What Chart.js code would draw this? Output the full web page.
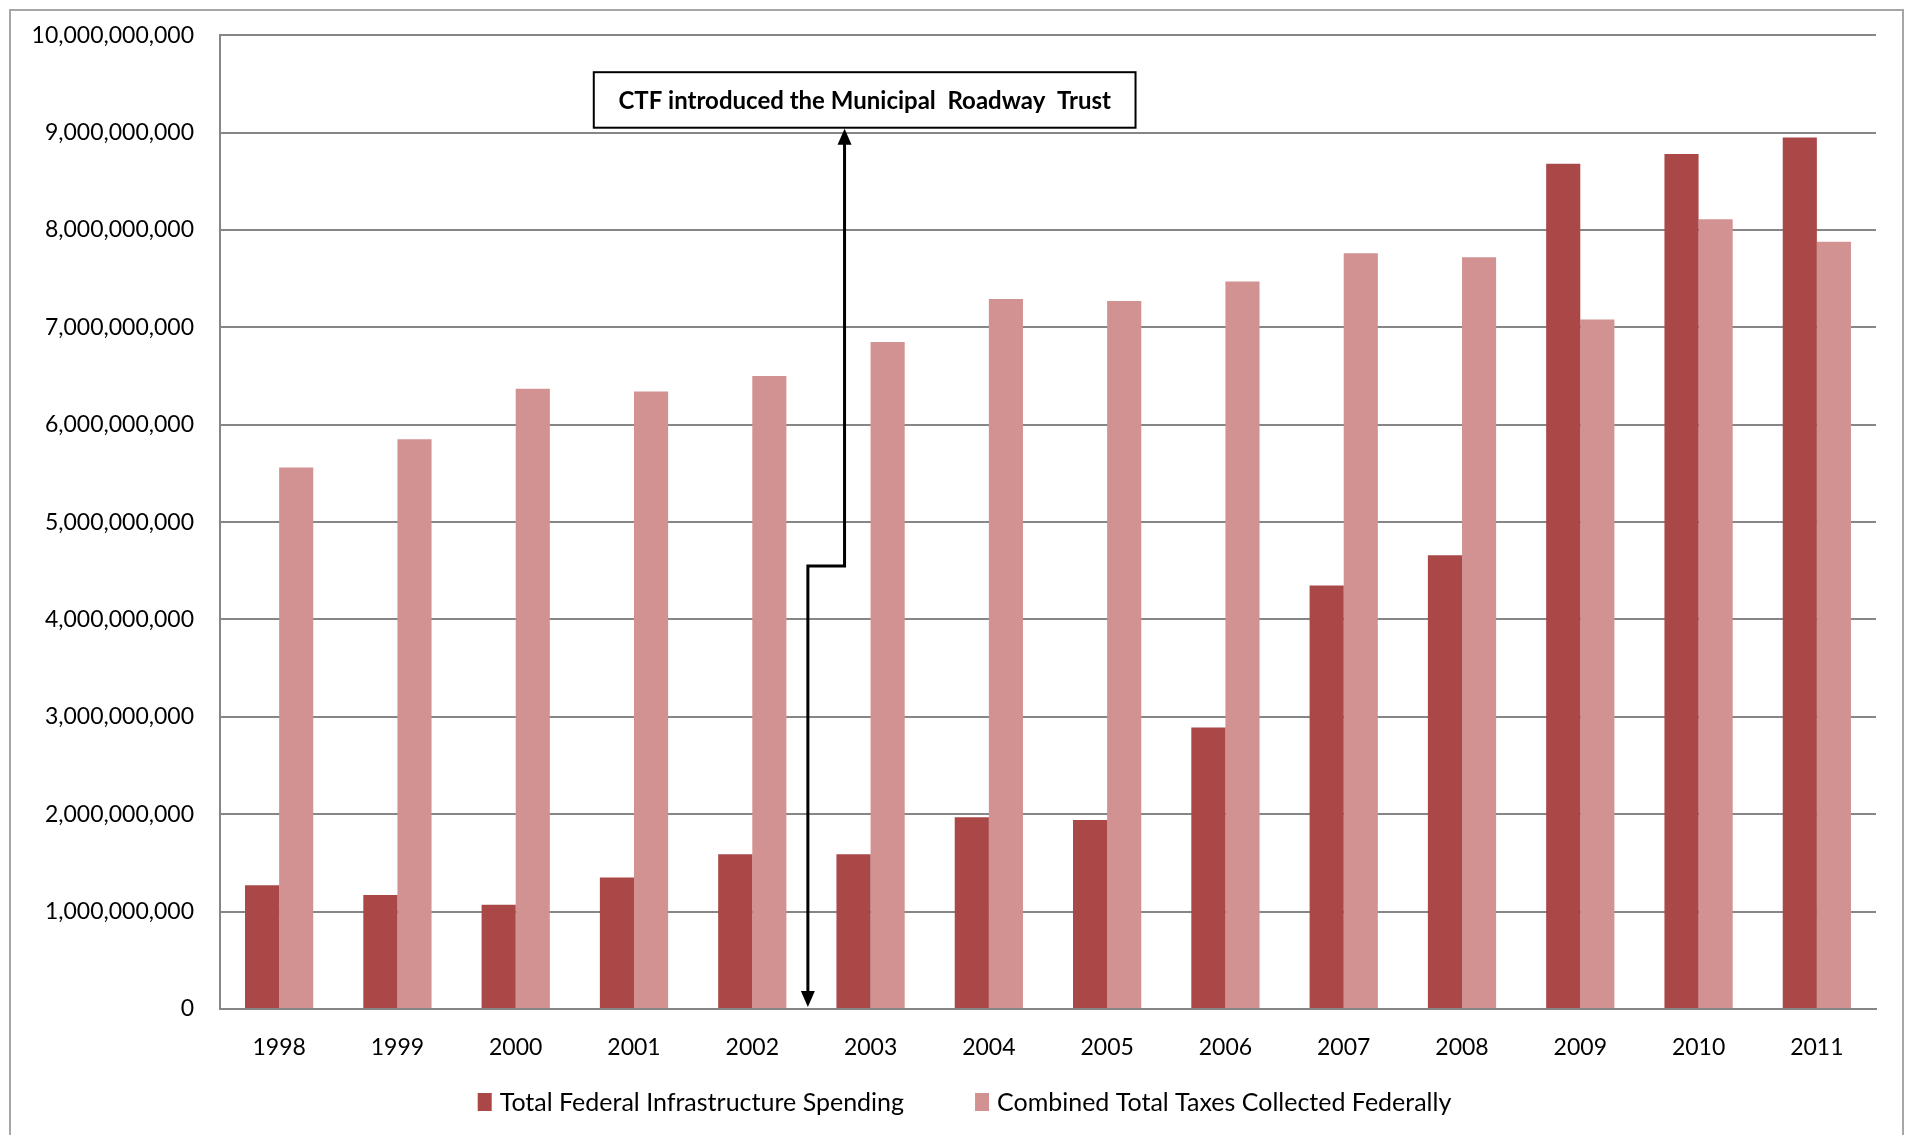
<!DOCTYPE html>
<html>
<head>
<meta charset="utf-8">
<script src="https://cdn.jsdelivr.net/npm/chart.js@4.4.0/dist/chart.umd.min.js"></script>
<style>
  html, body { margin: 0; padding: 0; background: #fff; }
  #wrap { width: 1913px; height: 1135px; position: relative; }
</style>
</head>
<body>
<div id="wrap"><canvas id="grafico"></canvas></div>
<script>
// categorias e series
const anos = ["1998", "1999", "2000", "2001", "2002", "2003", "2004", "2005", "2006", "2007", "2008", "2009", "2010", "2011"];
const gastoInfra = [1270000000, 1170000000, 1070000000, 1350000000, 1590000000, 1590000000, 1970000000, 1940000000, 2890000000, 4350000000, 4660000000, 8680000000, 8780000000, 8950000000];
const impostos = [5560000000, 5850000000, 6370000000, 6340000000, 6500000000, 6850000000, 7290000000, 7270000000, 7470000000, 7760000000, 7720000000, 7080000000, 8110000000, 7880000000];
const yTicks = [0, 1000000000, 2000000000, 3000000000, 4000000000, 5000000000, 6000000000, 7000000000, 8000000000, 9000000000, 10000000000];

const nota = "CTF introduced the Municipal  Roadway  Trust";
const fonte = "Lato, 'Liberation Sans', sans-serif";

// borda externa, legenda e caixa de anotacao com seta em cotovelo
const extras = {
  id: "extras",
  afterDraw(chart) {
    const ctx = chart.ctx;
    const x = chart.scales.x, y = chart.scales.y;
    ctx.save();
    ctx.strokeStyle = "#a6a6a6";
    ctx.lineWidth = 2;
    ctx.strokeRect(10, 10, chart.width - 20, chart.height + 20);

    // legenda (espacamento largo como no original)
    ctx.font = "25px " + fonte;
    ctx.textAlign = "left";
    ctx.textBaseline = "middle";
    const itens = chart.data.datasets.map(d => ({ txt: d.label, cor: d.backgroundColor, w: ctx.measureText(d.label).width }));
    const gap = 71, box = 14, boxGap = 8;
    const total = itens.reduce((s, it) => s + box + boxGap + it.w, 0) + gap * (itens.length - 1);
    let lx = chart.width / 2 + 8 - total / 2;
    const ly = 1102;
    itens.forEach(it => {
      ctx.fillStyle = it.cor;
      ctx.fillRect(lx, ly - 9, box, 18);
      ctx.fillStyle = "#000";
      ctx.fillText(it.txt, lx + box + boxGap, ly + 1);
      lx += box + boxGap + it.w + gap;
    });

    // seta
    const xTop = x.getPixelForValue(4.78);
    const xLow = x.getPixelForValue(4.47);
    const yBox = y.getPixelForValue(9050000000);
    const yMid = y.getPixelForValue(4550000000);
    const yZero = y.getPixelForValue(0);
    ctx.strokeStyle = "#000";
    ctx.lineWidth = 3;
    ctx.beginPath();
    ctx.moveTo(xTop, yBox + 14);
    ctx.lineTo(xTop, yMid);
    ctx.lineTo(xLow, yMid);
    ctx.lineTo(xLow, yZero - 16);
    ctx.stroke();
    ctx.fillStyle = "#000";
    ctx.beginPath();
    ctx.moveTo(xTop, yBox + 1);
    ctx.lineTo(xTop - 7, yBox + 17);
    ctx.lineTo(xTop + 7, yBox + 17);
    ctx.fill();
    ctx.beginPath();
    ctx.moveTo(xLow, yZero - 2);
    ctx.lineTo(xLow - 7, yZero - 18);
    ctx.lineTo(xLow + 7, yZero - 18);
    ctx.fill();

    // caixa
    const bx1 = x.getPixelForValue(2.66), bx2 = x.getPixelForValue(7.24);
    const by1 = y.getPixelForValue(9620000000);
    ctx.fillStyle = "#fff";
    ctx.fillRect(bx1, by1, bx2 - bx1, yBox - by1);
    ctx.strokeStyle = "#000";
    ctx.lineWidth = 2;
    ctx.strokeRect(bx1, by1, bx2 - bx1, yBox - by1);
    ctx.fillStyle = "#000";
    ctx.font = "bold 24px " + fonte;
    ctx.textAlign = "center";
    ctx.fillText(nota, (bx1 + bx2) / 2, (by1 + yBox) / 2 + 1);
    ctx.restore();
  }
};

new Chart(document.getElementById("grafico"), {
  type: "bar",
  data: {
    labels: anos,
    datasets: [
      {
        label: "Total Federal Infrastructure Spending",
        data: gastoInfra,
        backgroundColor: "#aa4747",
      },
      {
        label: "Combined Total Taxes Collected Federally",
        data: impostos,
        backgroundColor: "#d29292",
      }
    ]
  },
  options: {
    responsive: true,
    maintainAspectRatio: false,
    animation: false,
    datasets: {
      bar: { categoryPercentage: 0.577, barPercentage: 1.0 }
    },
    layout: {
      padding: { left: 20, right: 37, top: 24, bottom: 56 }
    },
    plugins: {
      legend: { display: false },
      tooltip: { enabled: false },
    },
    scales: {
      x: {
        grid: { display: false, drawTicks: false },
        border: { color: "#868686", width: 2 },
        ticks: {
          color: "#000",
          font: { family: fonte, size: 23 },
          padding: 25,
          maxRotation: 0,
        },
        afterFit(s) { s.height = 70; }
      },
      y: {
        min: 0,
        max: 10000000000,
        afterBuildTicks(s) { s.ticks = yTicks.map(v => ({ value: v })); },
        grid: { color: "#868686", lineWidth: 2, drawTicks: false },
        border: { color: "#868686", width: 2 },
        ticks: {
          color: "#000",
          font: { family: fonte, size: 23, lineHeight: 0.8 },
          padding: 26,
          callback: v => v.toLocaleString("en-US"),
        },
        afterFit(s) { s.width = 200; }
      }
    }
  },
  plugins: [extras]
});
</script>
</body>
</html>
